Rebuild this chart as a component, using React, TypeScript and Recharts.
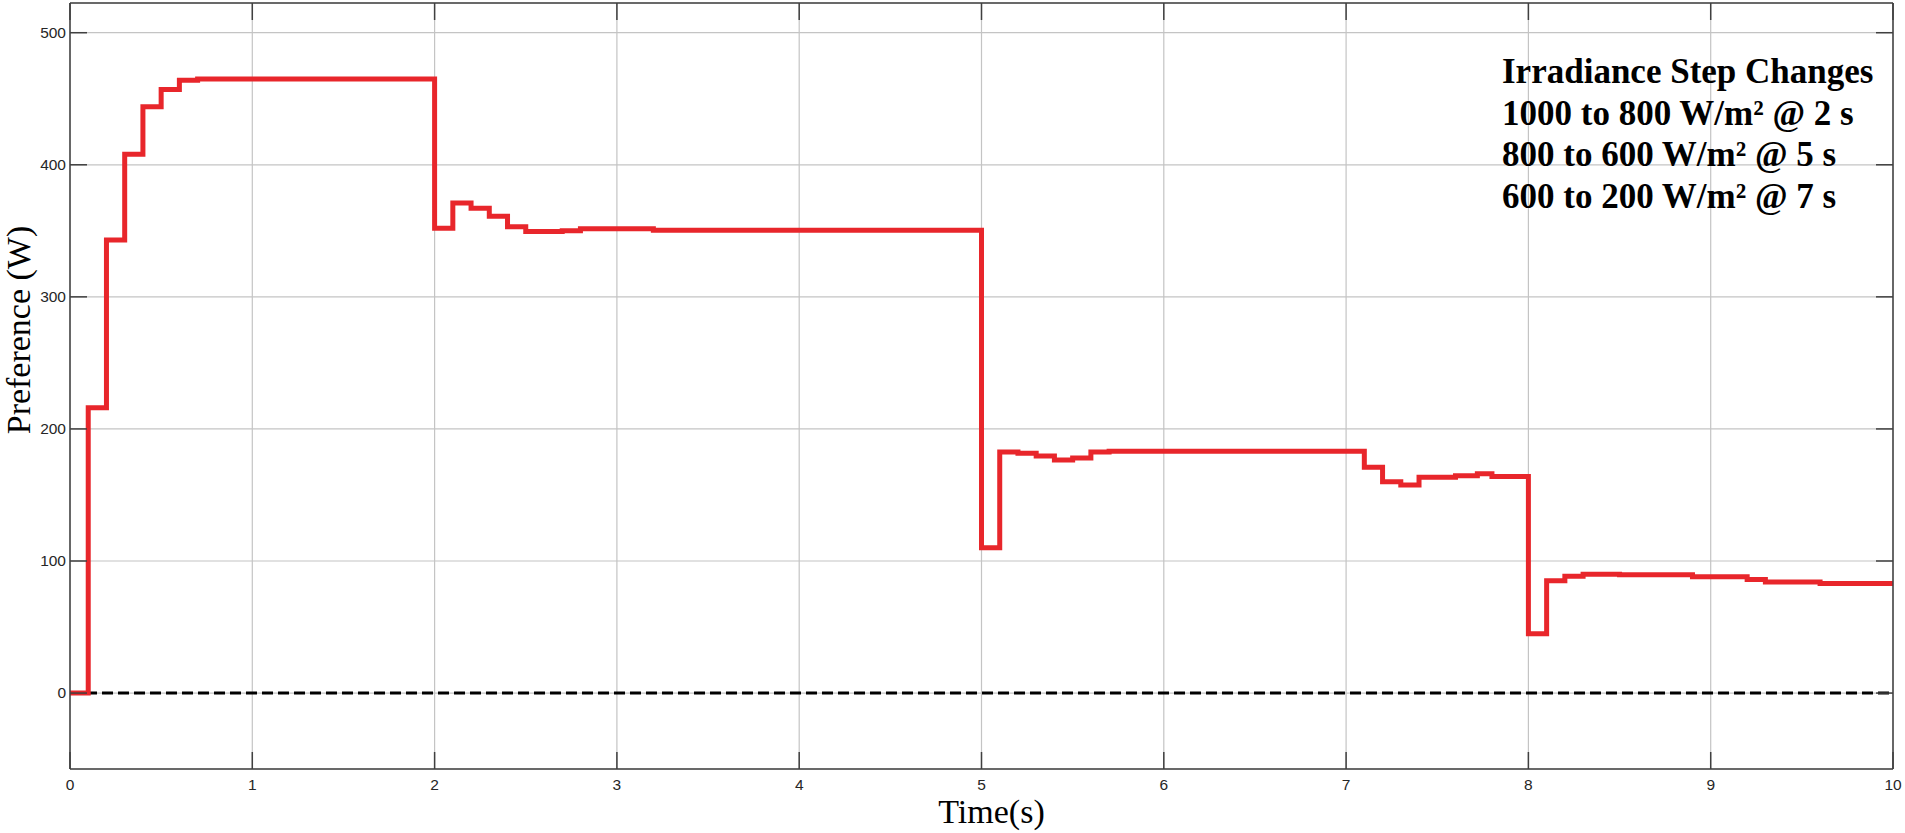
import React from 'react';
import { LineChart, Line, XAxis, YAxis, CartesianGrid, ReferenceLine, Label } from 'recharts';

// Time (s) at which each step begins
const timeS = [0, 0.1, 0.2, 0.3, 0.4, 0.5, 0.6, 0.7, 2.0, 2.1, 2.2, 2.3, 2.4, 2.5, 2.7, 2.8, 3.2, 5.0, 5.1, 5.2, 5.3, 5.4, 5.5, 5.6, 5.7, 7.1, 7.2, 7.3, 7.4, 7.6, 7.72, 7.8, 8.0, 8.1, 8.2, 8.3, 8.5, 8.9, 9.2, 9.3, 9.6, 10];
// Preference (W) held from each time above
const powerW = [0, 216, 343, 408, 444, 457, 464, 465, 352, 371, 367, 361, 353, 349.5, 350, 351.5, 350.5, 110, 182.5, 181.5, 179.5, 176.5, 178, 182.5, 183, 171, 160, 157.5, 163.5, 164.5, 166, 164, 45, 85, 88.5, 90, 89.5, 88, 86, 84, 83, 83];

const xTicks = [0, 1, 2, 3, 4, 5, 6, 7, 8, 9, 10];
const yTicks = [0, 100, 200, 300, 400, 500];
const xDomain = [0, 10];
const yDomain = [-57.5, 522.5];
const annotationLines = [
  'Irradiance Step Changes',
  '1000 to 800 W/m\u00B2 @ 2 s',
  '800 to 600 W/m\u00B2 @ 5 s',
  '600 to 200 W/m\u00B2 @ 7 s',
];
const xTitle = 'Time(s)';
const yTitle = 'Preference (W)';

const data = timeS.map((t, i) => ({ t, p: powerW[i] }));

const TICK_LEN = 17;
const FRAME = '#404040';
const TICK_FONT = "'Liberation Sans', Arial, Helvetica, sans-serif";
const SERIF = "'Liberation Serif', 'Times New Roman', Times, serif";

const BottomTick = (props: any) => {
  const { x, y, payload } = props;
  return (
    <g>
      <line x1={x} y1={y} x2={x} y2={y - TICK_LEN} stroke={FRAME} strokeWidth={1.5} />
      <text x={x} y={y + 21} textAnchor="middle" fontFamily={TICK_FONT} fontSize={15.5} fill="#262626">
        {payload.value}
      </text>
    </g>
  );
};

const TopTick = (props: any) => {
  const { x, y } = props;
  return <line x1={x} y1={y} x2={x} y2={y + TICK_LEN} stroke={FRAME} strokeWidth={1.5} />;
};

const LeftTick = (props: any) => {
  const { x, y, payload } = props;
  return (
    <g>
      <line x1={x} y1={y} x2={x + TICK_LEN} y2={y} stroke={FRAME} strokeWidth={1.5} />
      <text x={x - 4} y={y} dy="0.35em" textAnchor="end" fontFamily={TICK_FONT} fontSize={15.5} fill="#262626">
        {payload.value}
      </text>
    </g>
  );
};

const RightTick = (props: any) => {
  const { x, y } = props;
  return <line x1={x} y1={y} x2={x - TICK_LEN} y2={y} stroke={FRAME} strokeWidth={1.5} />;
};

export default function App() {
  return (
    <div style={{ position: 'fixed', left: 0, top: 0, width: 1905, height: 833, overflow: 'hidden', background: '#fff' }}>
      <LineChart width={1905} height={833} data={data} margin={{ top: 2, right: 11, bottom: 0, left: 0 }}>
        <CartesianGrid stroke="#c4c4c4" strokeWidth={1.2} />
        <XAxis
          xAxisId={0}
          dataKey="t"
          type="number"
          domain={xDomain}
          ticks={xTicks}
          height={64}
          tickSize={0}
          tickMargin={0}
          tickLine={false}
          tick={<BottomTick />}
          axisLine={{ stroke: FRAME, strokeWidth: 1.5 }}
          interval={0}
          allowDataOverflow
        >
          <Label
            content={(p: any) => {
              const vb = p.viewBox;
              const right = vb.x + vb.width;
              const left = right - 391;
              return (
                <g>
                  <text x={vb.x + vb.width / 2 + 10} y={823} textAnchor="middle" fontFamily={SERIF} fontSize={34} fill="#000">
                    {xTitle}
                  </text>
                  <text fontFamily={SERIF} fontSize={35} fontWeight="bold" fill="#000">
                    {annotationLines.map((s, i) => (
                      <tspan key={i} x={left} y={83 + i * 41.5}>
                        {s}
                      </tspan>
                    ))}
                  </text>
                </g>
              );
            }}
          />
        </XAxis>
        <XAxis
          xAxisId="top"
          orientation="top"
          dataKey="t"
          type="number"
          domain={xDomain}
          ticks={xTicks}
          height={1}
          tickSize={0}
          tickMargin={0}
          tickLine={false}
          tick={<TopTick />}
          axisLine={{ stroke: FRAME, strokeWidth: 1.5 }}
          interval={0}
          allowDataOverflow
        />
        <YAxis
          yAxisId={0}
          type="number"
          domain={yDomain}
          ticks={yTicks}
          width={70}
          tickSize={0}
          tickMargin={0}
          tickLine={false}
          tick={<LeftTick />}
          axisLine={{ stroke: FRAME, strokeWidth: 1.5 }}
          interval={0}
          allowDataOverflow
        >
          <Label
            content={() => (
              <text
                x={30}
                y={330}
                transform="rotate(-90 30 330)"
                textAnchor="middle"
                fontFamily={SERIF}
                fontSize={34}
                fill="#000"
              >
                {yTitle}
              </text>
            )}
          />
        </YAxis>
        <YAxis
          yAxisId="right"
          orientation="right"
          type="number"
          domain={yDomain}
          ticks={yTicks}
          width={1}
          tickSize={0}
          tickMargin={0}
          tickLine={false}
          tick={<RightTick />}
          axisLine={{ stroke: FRAME, strokeWidth: 1.5 }}
          interval={0}
          allowDataOverflow
        />
        <ReferenceLine y={0} xAxisId={0} yAxisId={0} stroke="#000" strokeWidth={3} strokeDasharray="11 5" />
        <Line
          xAxisId={0}
          yAxisId={0}
          type="stepAfter"
          dataKey="p"
          stroke="#e8262b"
          strokeWidth={5}
          dot={false}
          activeDot={false}
          isAnimationActive={false}
        />
      </LineChart>
    </div>
  );
}
